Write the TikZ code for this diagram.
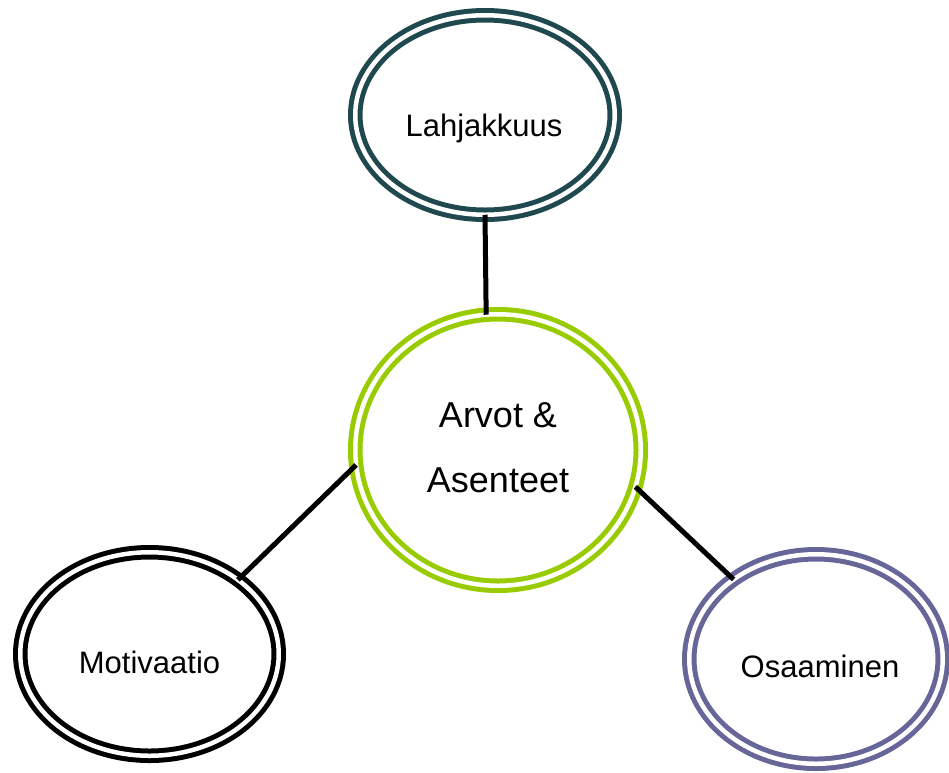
\documentclass[tikz,border=0pt]{standalone}
\usepackage{fontspec}
\setmainfont{Liberation Sans}
\usepackage{tikz}
\usetikzlibrary{shapes.geometric, positioning}

\definecolor{tummaturkoosi}{RGB}{31,73,79}
\definecolor{vihrea}{RGB}{153,204,0}
\definecolor{violetti}{RGB}{102,102,153}

\begin{document}
\begin{tikzpicture}[
    x=1pt, y=-1pt,
    rengas/.style={draw, ellipse, double, line width=5pt, double distance=4.5pt,
                   inner sep=0pt, outer sep=0pt},
    teksti/.style={font=\fontsize{31}{37}\selectfont, anchor=base},
    yhteys/.style={line width=5pt},
]
\useasboundingbox (0,0) rectangle (949,772);
%% Renkaat: Lahjakkuus ylhaalla, Arvot keskella,
%%          Motivaatio vasemmalla alhaalla, Osaaminen oikealla alhaalla
\node[rengas, draw=tummaturkoosi, minimum width=259.5pt, minimum height=199.5pt] at (485,115) (lah) {};
\node[rengas, draw=vihrea, minimum width=285.5pt, minimum height=271.5pt]        at (498,450) (ark) {};
\node[rengas, draw=black, minimum width=258.5pt, minimum height=203.5pt]         at (149.5,654) (mot) {};
\node[rengas, draw=violetti, minimum width=253.5pt, minimum height=209.5pt]      at (816,659) (osa) {};

%% Tekstit
\node[teksti] at (484,136)   (lah-t) {Lahjakkuus};
\node[font=\fontsize{36}{65}\selectfont, align=center] at (498,447.5) (ark-t) {Arvot \&\\Asenteet};
\node[teksti] at (149.5,673) (mot-t) {Motivaatio};
\node[teksti] at (820,677)   (osa-t) {Osaaminen};

%% Yhteydet
\draw[yhteys] (lah.270) -- (ark.95.4);
\draw[yhteys] (ark.186) -- (mot.40);
\draw[yhteys] (ark.345) -- (osa.136.4);
\end{tikzpicture}
\end{document}
